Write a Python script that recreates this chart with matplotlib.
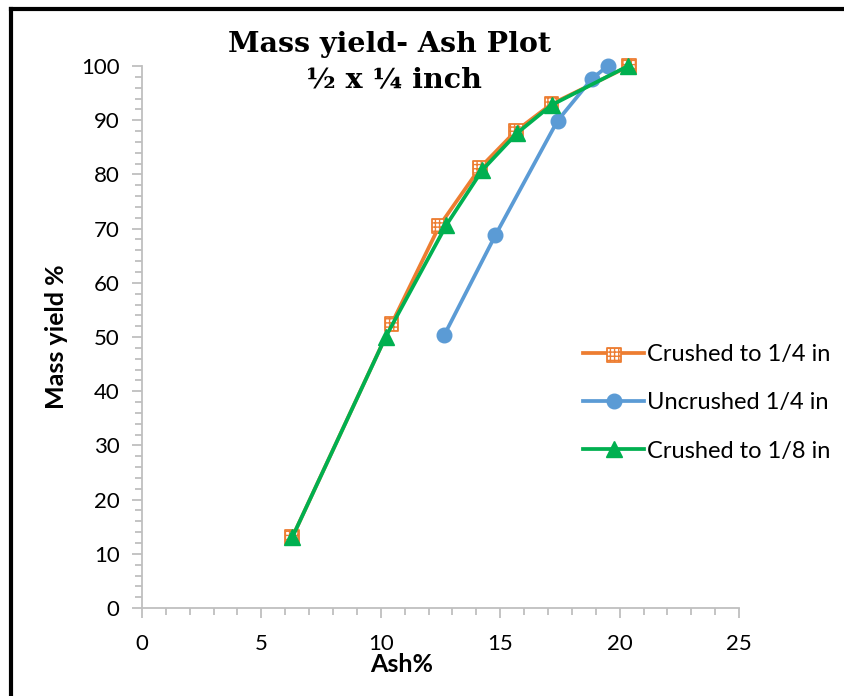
import matplotlib
matplotlib.use("Agg")
import matplotlib.pyplot as plt
from matplotlib.lines import Line2D
from matplotlib.ticker import MultipleLocator
from matplotlib.legend_handler import HandlerTuple

# Ash % (x) and cumulative mass yield % (y) for each sample
ash_crushed_quarter = [6.3, 10.45, 12.45, 14.15, 15.65, 17.15, 20.4]
yield_crushed_quarter = [13.1, 52.4, 70.5, 81.2, 88.0, 93.0, 100.0]

ash_uncrushed_quarter = [12.65, 14.8, 17.4, 18.85, 19.5]
yield_uncrushed_quarter = [50.3, 68.8, 89.9, 97.7, 100.0]

ash_crushed_eighth = [6.3, 10.2, 12.75, 14.25, 15.7, 17.15, 20.35]
yield_crushed_eighth = [13.1, 50.0, 70.7, 80.8, 87.6, 92.8, 100.0]

labels = ["Crushed to 1/4 in", "Uncrushed 1/4 in", "Crushed to 1/8 in"]

ORANGE = "#ED7D31"
BLUE = "#5B9BD5"
GREEN = "#00B050"
AXIS_GRAY = "#BFBFBF"

sans = ["Lato", "DejaVu Sans"]

W, H = 845, 696
fig = plt.figure(figsize=(W / 100, H / 100), dpi=100)
ax = fig.add_axes([0.168, 0.1264, 0.7066, 0.7787])

lw = 2.7
# Crushed to 1/4 in: orange line with checkered square markers
l1, = ax.plot(ash_crushed_quarter, yield_crushed_quarter, color=ORANGE, lw=lw,
              zorder=2, clip_on=False)
s1 = ax.scatter(ash_crushed_quarter, yield_crushed_quarter, marker="s", s=100,
                facecolor="white", edgecolor=ORANGE, hatch="++++", linewidth=1.3,
                zorder=3, clip_on=False)

l2, = ax.plot(ash_uncrushed_quarter, yield_uncrushed_quarter, color=BLUE, lw=lw,
              marker="o", markersize=10.5, markerfacecolor=BLUE, markeredgecolor=BLUE,
              zorder=2, clip_on=False)

l3, = ax.plot(ash_crushed_eighth, yield_crushed_eighth, color=GREEN, lw=lw,
              marker="^", markersize=11.5, markerfacecolor=GREEN, markeredgecolor=GREEN,
              zorder=4, clip_on=False)

ax.set_xlim(0, 25)
ax.set_ylim(0, 100)
ax.xaxis.set_major_locator(MultipleLocator(5))
ax.xaxis.set_minor_locator(MultipleLocator(1))
ax.yaxis.set_major_locator(MultipleLocator(10))
ax.yaxis.set_minor_locator(MultipleLocator(2))

for side in ("top", "right"):
    ax.spines[side].set_visible(False)
for side in ("left", "bottom"):
    ax.spines[side].set_color(AXIS_GRAY)
    ax.spines[side].set_linewidth(1.3)

ax.tick_params(which="both", direction="out", color=AXIS_GRAY, width=1.3)
ax.tick_params(which="major", length=7, labelsize=16)
ax.tick_params(axis="x", which="major", pad=12)
ax.tick_params(axis="y", which="major", pad=9)
ax.tick_params(which="minor", length=5)
for lab in ax.get_xticklabels() + ax.get_yticklabels():
    lab.set_family(sans)

# Axis titles
fig.text(402 / W, 1 - 665 / H, "Ash%", ha="center", va="center",
         fontsize=18, fontweight="bold", family=sans)
fig.text(57 / W, 1 - 337 / H, "Mass yield %", ha="center", va="center",
         rotation=90, fontsize=18, fontweight="bold", family=sans)

# Chart title
title_font = ["DejaVu Serif"]
fig.text(390 / W, 1 - 45 / H, "Mass yield- Ash Plot", ha="center", va="center",
         fontsize=20.5, fontweight="bold", family=title_font)
fig.text(394 / W, 1 - 80 / H, "\u00bd x \u00bc inch", ha="center", va="center",
         fontsize=20.5, fontweight="bold", family=title_font)

leg = fig.legend([(l1, s1), l2, l3], labels, loc="center left",
                 bbox_to_anchor=(583 / W, 1 - 403 / H), frameon=False,
                 borderpad=0, borderaxespad=0,
                 handlelength=2.6, handletextpad=0.1, labelspacing=1.15,
                 handler_map={tuple: HandlerTuple(ndivide=1, pad=0)},
                 prop={"family": sans, "size": 17})

# Black frame along the top and left edges
fig.add_artist(Line2D([0.0125, 1.0], [0.987, 0.987], transform=fig.transFigure,
                      color="black", lw=3))
fig.add_artist(Line2D([0.0125, 0.0125], [0.0, 0.987], transform=fig.transFigure,
                      color="black", lw=3))

fig.savefig("out.png", dpi=100)
